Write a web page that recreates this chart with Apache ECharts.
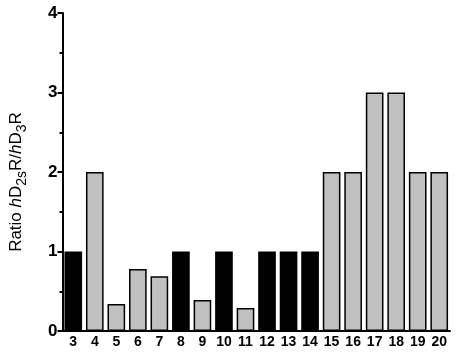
<!DOCTYPE html>
<html><head><meta charset="utf-8">
<script src="https://cdn.jsdelivr.net/npm/echarts@6/dist/echarts.min.js"></script>
<style>html,body{margin:0;padding:0;background:#fff}#c{width:459px;height:360px}</style>
</head><body><div id="c"></div>
<script>
const categories = ['3','4','5','6','7','8','9','10','11','12','13','14','15','16','17','18','19','20'];
const values = [1, 2, 0.34, 0.78, 0.69, 1, 0.39, 1, 0.29, 1, 1, 1, 2, 2, 3, 3, 2, 2];
const groups = ['b','g','g','g','g','b','g','b','g','b','b','b','g','g','g','g','g','g'];
const yTicks = [0, 1, 2, 3, 4];
const groupColors = {b: '#000000', g: '#c0c0c0'};

const chart = echarts.init(document.getElementById('c'));
chart.setOption({
  animation: false,
  grid: {left: 58, right: 9, top: 13, bottom: 29},
  xAxis: {
    type: 'category',
    data: categories,
    axisLine: {lineStyle: {color: '#000', width: 2}},
    axisTick: {show: false},
    axisLabel: {color: '#000', fontFamily: 'Liberation Sans, Arial', fontWeight: 'bold', fontSize: 14, margin: 4, interval: 0}
  },
  yAxis: {
    type: 'value',
    min: yTicks[0], max: yTicks[yTicks.length - 1], interval: 1,
    name: '{a|Ratio }{i|h}{a|D}{s|2s}{a|R/}{i|h}{a|D}{s|3}{a|R}',
    nameLocation: 'middle',
    nameGap: 33,
    nameTextStyle: {
      padding: [0, 20, 0, 0],
      rich: {
        a: {fontFamily: 'Liberation Sans, Arial', fontSize: 17, color: '#000', lineHeight: 26, verticalAlign: 'middle'},
        i: {fontFamily: 'Liberation Sans, Arial', fontSize: 17, fontStyle: 'italic', color: '#000', lineHeight: 26, verticalAlign: 'middle'},
        s: {fontFamily: 'Liberation Sans, Arial', fontSize: 14, color: '#000', lineHeight: 14, verticalAlign: 'bottom'}
      }
    },
    splitLine: {show: false},
    axisLine: {show: true, lineStyle: {color: '#000', width: 2}},
    axisTick: {show: true, length: 5, lineStyle: {color: '#000', width: 2}},
    minorTick: {show: true, splitNumber: 2, length: 3, lineStyle: {color: '#000', width: 2}},
    axisLabel: {color: '#000', fontFamily: 'Liberation Sans, Arial', fontWeight: 'bold', fontSize: 17, margin: 5}
  },
  series: [{
    type: 'bar',
    barCategoryGap: '18%',
    data: values.map((v, i) => ({value: v, itemStyle: {color: groupColors[groups[i]]}})),
    itemStyle: {borderColor: '#000', borderWidth: 1.5}
  }]
});
</script></body></html>
